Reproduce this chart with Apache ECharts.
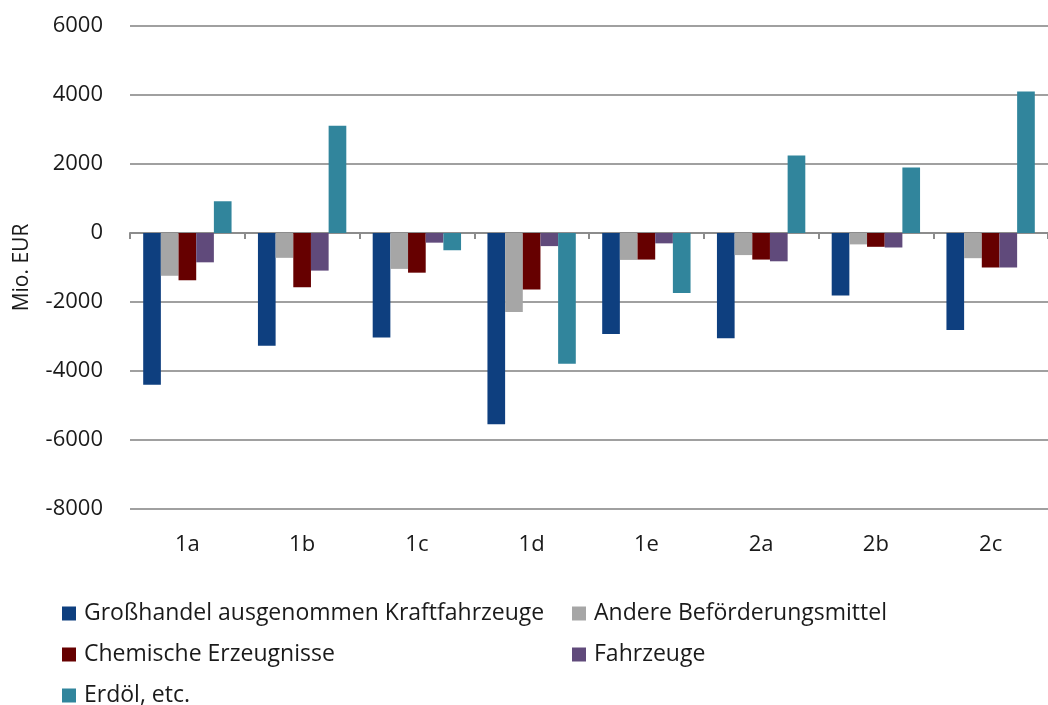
<!DOCTYPE html>
<html>
<head>
<meta charset="utf-8">
<script src="https://cdn.jsdelivr.net/npm/echarts@6/dist/echarts.min.js"></script>
<style>
  html, body { margin: 0; padding: 0; background: #fff; }
  #chart { width: 1048px; height: 705px; }
</style>
</head>
<body>
<div id="chart"></div>
<script>
// Kategorien und Werte (Mio. EUR)
const categories = ['1a', '1b', '1c', '1d', '1e', '2a', '2b', '2c'];
const grosshandel = [-4400, -3270, -3030, -5540, -2930, -3050, -1810, -2810];
const andereBef = [-1240, -720, -1040, -2290, -780, -640, -330, -730];
const chemische = [-1370, -1570, -1150, -1640, -770, -770, -400, -1000];
const fahrzeuge = [-850, -1090, -280, -380, -300, -820, -420, -1000];
const erdoel = [920, 3110, -500, -3790, -1740, 2250, 1900, 4100];
const yTicks = { min: -8000, max: 6000, step: 2000 };

const names = [
  'Großhandel ausgenommen Kraftfahrzeuge',
  'Andere Beförderungsmittel',
  'Chemische Erzeugnisse',
  'Fahrzeuge',
  'Erdöl, etc.'
];
const colors = ['#0E3F7F', '#A6A6A6', '#660000', '#604A7B', '#31859C'];
const values = [grosshandel, andereBef, chemische, fahrzeuge, erdoel];

const FONT = 'Open Sans';
const textCol = '#1a1a1a';

// Legende: 2 Spalten, 3 Zeilen
const legendPos = [[62, 602], [572, 602], [62, 643], [572, 643], [62, 684]];
const legends = names.map(function (n, i) {
  return {
    data: [n],
    left: legendPos[i][0],
    top: legendPos[i][1],
    icon: 'rect',
    itemWidth: 14,
    itemHeight: 14,
    padding: 0,
    textStyle: { fontFamily: FONT, fontSize: 23, color: textCol, padding: [0, 0, 0, 3] }
  };
});

const series = names.map(function (n, i) {
  return {
    name: n,
    type: 'bar',
    xAxisIndex: 0,
    data: values[i],
    barGap: '0%',
    barCategoryGap: '23%',
    itemStyle: { color: colors[i] }
  };
});

const chart = echarts.init(document.getElementById('chart'));
chart.setOption({
  animation: false,
  color: colors,
  legend: legends,
  grid: { left: 130, right: -10, top: 26, bottom: 196, containLabel: false },
  xAxis: [
    {
      type: 'category',
      data: categories,
      axisLine: { onZero: true, lineStyle: { color: '#8c8c8c', width: 2 } },
      axisTick: { show: true, length: 6, lineStyle: { color: '#8c8c8c', width: 2 } },
      axisLabel: { show: false }
    },
    {
      type: 'category',
      data: categories,
      position: 'bottom',
      axisLine: { show: false, onZero: false },
      axisTick: { show: false },
      axisLabel: { margin: 25, fontFamily: FONT, fontSize: 22, color: textCol }
    }
  ],
  yAxis: {
    type: 'value',
    min: yTicks.min,
    max: yTicks.max,
    interval: yTicks.step,
    name: 'Mio. EUR',
    nameLocation: 'middle',
    nameGap: 97,
    nameTextStyle: { fontFamily: FONT, fontSize: 21, color: textCol },
    axisLine: { show: false },
    axisTick: { show: false },
    axisLabel: {
      margin: 27, fontFamily: FONT, fontSize: 22, color: textCol,
      formatter: function (v) { return String(v); }
    },
    splitLine: { lineStyle: { color: '#a0a0a0', width: 2 } }
  },
  series: series
});
</script>
</body>
</html>
